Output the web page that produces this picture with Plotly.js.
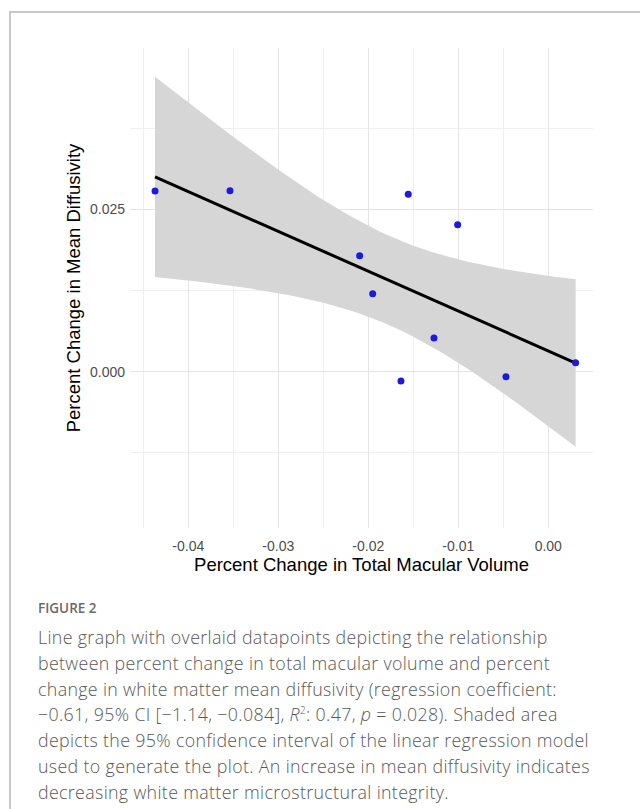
<!DOCTYPE html>
<html>
<head>
<meta charset="utf-8">
<script src="https://cdn.plot.ly/plotly-3.0.1.min.js"></script>
<style>
  html, body { margin: 0; padding: 0; background: #ffffff; }
  body { width: 640px; height: 809px; position: relative; overflow: hidden; }
  #frame { position: absolute; left: 9px; top: 11px; width: 700px; height: 900px;
           border-left: 2px solid #c8c8c8; border-top: 2px solid #c8c8c8; }
  #plot { position: absolute; left: 0; top: 0; width: 640px; height: 600px; }
  #figlabel { position: absolute; left: 38px; top: 599px; font-family: 'Open Sans', sans-serif;
              font-weight: 600; font-size: 13.5px; color: #6a6a6a; }
  #caption { position: absolute; left: 38px; top: 625px; font-family: 'Open Sans', sans-serif;
             font-weight: 300; font-size: 17.8px; letter-spacing: 0.35px; line-height: 25.8px; color: #585858; white-space: nowrap; }
</style>
</head>
<body>
<div id="frame"></div>
<div id="plot"></div>
<div id="figlabel">FIGURE 2</div>
<div id="caption">Line graph with overlaid datapoints depicting the relationship<br>between percent change in total macular volume and percent<br>change in white matter mean diffusivity (regression coefficient:<br>−0.61, 95% CI [−1.14, −0.084], <i>R</i><sup style="font-size:10px;line-height:0">2</sup>: 0.47, <i>p</i> = 0.028). Shaded area<br>depicts the 95% confidence interval of the linear regression model<br>used to generate the plot. An increase in mean diffusivity indicates<br>decreasing white matter microstructural integrity.</div>
<script>
// Data
const macularChange = [-0.0437, -0.03537, -0.01556, -0.01007, -0.02096, -0.01951, -0.0127, -0.01637, -0.0047, 0.00304];
const diffusivityChange = [0.02782, 0.02786, 0.02731, 0.02263, 0.01786, 0.01201, 0.00519, -0.00143, -0.00077, 0.00139];

const xTickVals = [-0.04, -0.03, -0.02, -0.01, 0.0];
const xTickText = ['-0.04', '-0.03', '-0.02', '-0.01', '0.00'];
const xMinorVals = [-0.045, -0.035, -0.025, -0.015, -0.005, 0.005];
const yTickVals = [0.0, 0.025];
const yTickText = ['0.000', '0.025'];
const yMinorVals = [-0.0125, 0.0125, 0.0375];

const xRange = [-0.04648, 0.00497];
const yRange = [-0.02406, 0.04983];

// Linear regression + 95% confidence band (as ggplot geom_smooth(method = "lm"))
const n = macularChange.length;
const mx = macularChange.reduce((a, b) => a + b, 0) / n;
const my = diffusivityChange.reduce((a, b) => a + b, 0) / n;
let sxx = 0, sxy = 0;
for (let i = 0; i < n; i++) {
  sxx += (macularChange[i] - mx) ** 2;
  sxy += (macularChange[i] - mx) * (diffusivityChange[i] - my);
}
const slope = sxy / sxx;
const intercept = my - slope * mx;
let sse = 0;
for (let i = 0; i < n; i++) {
  const r = diffusivityChange[i] - (intercept + slope * macularChange[i]);
  sse += r * r;
}
const s = Math.sqrt(sse / (n - 2));
const tCrit = 2.306; // t(0.975, df = 8)
const xmin = Math.min(...macularChange), xmax = Math.max(...macularChange);
const gx = [], fit = [], lo = [], hi = [];
const steps = 80;
for (let k = 0; k < steps; k++) {
  const x = xmin + (xmax - xmin) * k / (steps - 1);
  const yhat = intercept + slope * x;
  const se = s * Math.sqrt(1 / n + (x - mx) ** 2 / sxx);
  gx.push(x); fit.push(yhat); lo.push(yhat - tCrit * se); hi.push(yhat + tCrit * se);
}

const band = {
  x: gx.concat(gx.slice().reverse()),
  y: hi.concat(lo.slice().reverse()),
  type: 'scatter', mode: 'lines', fill: 'toself',
  fillcolor: 'rgb(214,214,214)', line: { width: 0, color: 'rgba(0,0,0,0)' },
  hoverinfo: 'skip', showlegend: false
};
const fitLine = {
  x: gx, y: fit, type: 'scatter', mode: 'lines',
  line: { color: '#000000', width: 3 }, showlegend: false
};
const pts = {
  x: macularChange, y: diffusivityChange, type: 'scatter', mode: 'markers',
  marker: { color: '#1a1ae0', size: 7 }, showlegend: false
};

const gridMajor = '#e4e4e4';
const gridMinor = '#efefef';
const layout = {
  width: 640, height: 600,
  margin: { l: 130, r: 47, t: 48, b: 72 },
  paper_bgcolor: 'rgba(0,0,0,0)', plot_bgcolor: '#ffffff',
  font: { family: 'Liberation Sans, Arial, sans-serif' },
  showlegend: false,
  xaxis: {
    range: xRange, tickmode: 'array', tickvals: xTickVals, ticktext: xTickText,
    showgrid: true, gridcolor: gridMajor, gridwidth: 1, zeroline: false, showline: false,
    ticks: '', ticklabelstandoff: 8,
    tickfont: { size: 14, color: '#4d4d4d' },
    minor: { tickmode: 'array', tickvals: xMinorVals, showgrid: true, gridcolor: gridMinor, gridwidth: 1, ticks: '' },
    title: { text: 'Percent Change in Total Macular Volume', font: { size: 18.5, color: '#000000' }, standoff: 5 },
    automargin: false
  },
  yaxis: {
    range: yRange, tickmode: 'array', tickvals: yTickVals, ticktext: yTickText,
    showgrid: true, gridcolor: gridMajor, gridwidth: 1, zeroline: false, showline: false,
    ticks: '', ticklabelstandoff: 4,
    tickfont: { size: 14, color: '#4d4d4d' },
    minor: { tickmode: 'array', tickvals: yMinorVals, showgrid: true, gridcolor: gridMinor, gridwidth: 1, ticks: '' },
    title: { text: 'Percent Change in Mean Diffusivity', font: { size: 18.5, color: '#000000' }, standoff: 4 },
    automargin: false
  }
};
Plotly.newPlot('plot', [band, fitLine, pts], layout, { staticPlot: true, displayModeBar: false });
</script>
</body>
</html>
